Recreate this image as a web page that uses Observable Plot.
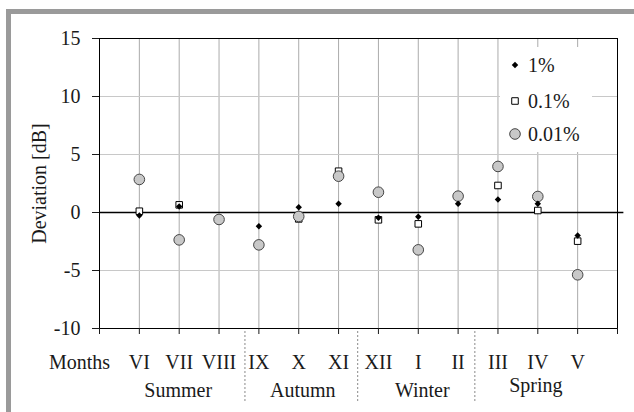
<!DOCTYPE html>
<html><head><meta charset="utf-8">
<script src="https://cdn.jsdelivr.net/npm/d3@7"></script>
<script src="https://cdn.jsdelivr.net/npm/@observablehq/plot@0.6"></script>
<style>
body{margin:0;background:#fff;}
#wrap{position:relative;width:634px;height:412px;overflow:hidden;font-family:"Liberation Serif",serif;}
#wrap svg text{font-family:"Liberation Serif",serif !important;font-variant:normal !important;}
#frame{position:absolute;left:6px;top:9px;width:700px;height:500px;border-top:5px solid #9a9a9a;border-left:5px solid #9a9a9a;pointer-events:none;z-index:2;}
#legend{position:absolute;left:500px;top:47px;}
</style></head><body><div id="wrap"><div id="frame"></div></div>
<script>
// ---- data ----
const months = ["VI","VII","VIII","IX","X","XI","XII","I","II","III","IV","V"];
const monthSeason = ["Summer","Summer","Summer","Autumn","Autumn","Autumn","Winter","Winter","Winter","Spring","Spring","Spring"];
const seasons = ["Summer","Autumn","Winter","Spring"];
const seriesNames = ["1%","0.1%","0.01%"];
const dev1   = [-0.26, 0.52, null, -1.18, 0.46, 0.75, -0.46, -0.37, 0.75, 1.12, 0.75, -1.98];
const dev01  = [0.11, 0.66, -0.6, -2.8, -0.55, 3.56, -0.63, -0.98, 1.4, 2.33, 0.17, -2.47];
const dev001 = [2.85, -2.36, -0.6, -2.79, -0.34, 3.13, 1.75, -3.22, 1.41, 3.97, 1.38, -5.37];
const yTicks = [-10, -5, 0, 5, 10, 15];
const yGrid = [-5, 5, 10];
const separators = [3.65, 6.48, 9.42]; // season boundaries on the month axis
const yLabel = "Deviation [dB]";
const xLabel = "Months";

// ---- table ----
const rows = [];
months.forEach((m, i) => {
  rows.push({month: m, x: i + 1, series: "1%", v: dev1[i]});
  rows.push({month: m, x: i + 1, series: "0.1%", v: dev01[i]});
  rows.push({month: m, x: i + 1, series: "0.01%", v: dev001[i]});
});
const seasonX = s => d3.mean(months.map((m, i) => i + 1).filter((x, i) => monthSeason[i] === s));
const font = "Liberation Serif, serif";

const chart = Plot.plot({
  width: 634, height: 412,
  marginLeft: 99, marginRight: 17, marginTop: 38, marginBottom: 84,
  style: {fontFamily: font, fontSize: "20px", color: "#1a1a1a", background: "transparent", overflow: "visible"},
  x: {domain: [0, months.length + 1]},
  y: {domain: [-10, 15]},
  marks: [
    Plot.gridX(months.map((m, i) => i + 1), {stroke: "#ababab", strokeOpacity: 1}),
    Plot.ruleY(yGrid, {stroke: "#c8c8c8"}),
    Plot.ruleY([0], {x1: () => 0, x2: () => 13.16, stroke: "#000", strokeWidth: 1.3}),
    Plot.frame({stroke: "#000"}),
    Plot.axisY({ticks: yTicks, tickSize: 7, tickPadding: 12, tickFormat: d => String(d), label: null}),
    Plot.axisX({ticks: d3.range(0, months.length + 2), tickSize: 6, tickPadding: 20,
      tickFormat: i => months[i - 1] ?? "", label: null}),
    Plot.text([xLabel], {frameAnchor: "bottom-left", textAnchor: "middle", dx: -20, dy: 26, lineAnchor: "top"}),
    Plot.text([yLabel], {frameAnchor: "left", textAnchor: "middle", rotate: -90, dx: -60}),
    Plot.text(seasons.filter(s => s === "Summer"), {x: seasonX, frameAnchor: "bottom", lineAnchor: "top", dx: -1, dy: 54}),
    Plot.text(seasons.filter(s => s === "Autumn" || s === "Winter"), {x: seasonX, frameAnchor: "bottom", lineAnchor: "top", dx: 4, dy: 54}),
    Plot.text(seasons.filter(s => s === "Spring"), {x: seasonX, frameAnchor: "bottom", lineAnchor: "top", dx: -2, dy: 49}),
    Plot.ruleX(separators, {y1: () => -10.26, y2: () => -16.4, stroke: "#888", strokeDasharray: "2,2"}),
    Plot.dot(rows.filter(d => d.series === "0.1%"), {x: "x", y: "v", symbol: "square", r: 3.7, fill: "#fff", stroke: "#000", strokeWidth: 1}),
    Plot.dot(rows.filter(d => d.series === "0.01%"), {x: "x", y: "v", r: 5.3, fill: "#c8c8c8", stroke: "#444", strokeWidth: 1}),
    Plot.dot(rows.filter(d => d.series === "1%"), {x: "x", y: "v", symbol: "diamond2", r: 2.9, fill: "#000", stroke: "none"})
  ]
});
document.getElementById("wrap").insertBefore(chart, document.getElementById("frame"));

// ---- legend ----
const legendItems = [
  {label: seriesNames[0], type: d3.symbolDiamond2, size: Math.PI * 2.9 * 2.9, fill: "#000", stroke: "none"},
  {label: seriesNames[1], type: d3.symbolSquare, size: Math.PI * 3.7 * 3.7, fill: "#fff", stroke: "#000"},
  {label: seriesNames[2], type: d3.symbolCircle, size: Math.PI * 5.3 * 5.3, fill: "#c8c8c8", stroke: "#444"}
];
const rowY = [18, 54, 87];
const leg = d3.select("#wrap").append("svg").attr("id", "legend").attr("width", 92).attr("height", 105);
leg.append("rect").attr("width", 92).attr("height", 105).attr("fill", "#fff");
legendItems.forEach((it, i) => {
  leg.append("path").attr("d", d3.symbol(it.type, it.size)()).attr("transform", `translate(15,${rowY[i]})`)
    .attr("fill", it.fill).attr("stroke", it.stroke);
  leg.append("text").attr("x", 28).attr("y", rowY[i] + 7).attr("font-size", 20)
    .attr("fill", "#1a1a1a").text(it.label);
});
</script>
</body></html>
